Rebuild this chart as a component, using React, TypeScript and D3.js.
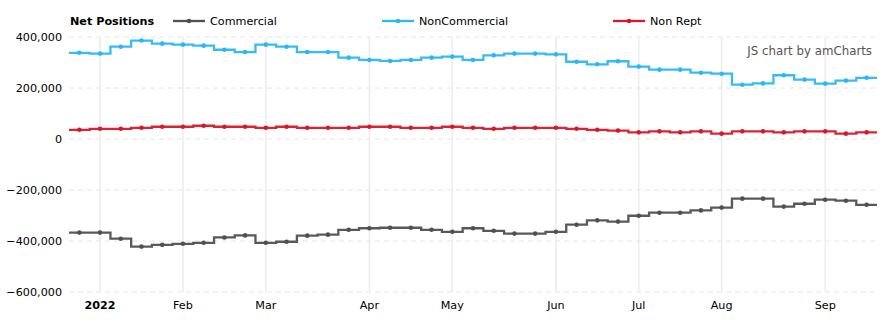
import React from "react";
import * as d3 from "d3";

const dates = [
  "2021-12-28", "2022-01-04", "2022-01-11", "2022-01-18", "2022-01-25",
  "2022-02-01", "2022-02-08", "2022-02-15", "2022-02-22",
  "2022-03-01", "2022-03-08", "2022-03-15", "2022-03-22", "2022-03-29",
  "2022-04-05", "2022-04-12", "2022-04-19", "2022-04-26",
  "2022-05-03", "2022-05-10", "2022-05-17", "2022-05-24", "2022-05-31",
  "2022-06-07", "2022-06-14", "2022-06-21", "2022-06-28",
  "2022-07-05", "2022-07-12", "2022-07-19", "2022-07-26",
  "2022-08-02", "2022-08-09", "2022-08-16", "2022-08-23", "2022-08-30",
  "2022-09-06", "2022-09-13", "2022-09-20",
];

const commercial = [
  -367000, -367000, -391000, -422000, -415000, -411000, -407000, -386000, -378000,
  -407000, -403000, -379000, -375000, -356000, -350000, -348000, -348000, -356000,
  -364000, -350000, -360000, -371000, -371000, -364000, -336000, -319000, -324000,
  -301000, -289000, -289000, -280000, -269000, -234000, -234000, -265000, -254000,
  -238000, -242000, -258000,
];

const nonCommercial = [
  338000, 335000, 362000, 386000, 374000, 370000, 366000, 350000, 341000,
  370000, 362000, 341000, 341000, 319000, 310000, 306000, 310000, 319000,
  323000, 310000, 328000, 335000, 335000, 332000, 303000, 293000, 305000,
  284000, 272000, 272000, 260000, 256000, 213000, 218000, 250000, 233000,
  217000, 229000, 240000,
];

const nonRept = [
  36000, 40000, 40000, 44000, 48000, 48000, 52000, 48000, 48000,
  44000, 48000, 44000, 44000, 44000, 48000, 48000, 44000, 44000,
  48000, 44000, 40000, 44000, 44000, 44000, 40000, 36000, 33000,
  26000, 30000, 26000, 30000, 21000, 30000, 30000, 26000, 30000,
  30000, 21000, 26000,
];

const seriesNames = ["Commercial", "NonCommercial", "Non Rept"];
const seriesColors = ["#505050", "#2ab7f6", "#d8172a"];
const monthLabels = ["2022", "Feb", "Mar", "Apr", "May", "Jun", "Jul", "Aug", "Sep"];
const yTicks = [400000, 200000, 0, -200000, -400000, -600000];

const W = 891;
const H = 326;
const plotLeft = 69;
const plotRight = 877;
const plotTop = 37;
const plotBottom = 292;

export default function App() {
  const x = d3.scaleBand<string>().domain(dates).range([plotLeft, plotRight]).padding(0);
  const bw = x.bandwidth();
  const y = d3.scaleLinear().domain([-600000, 400000]).range([plotBottom, plotTop]);
  const fmt = d3.format(",");

  const allSeries = [commercial, nonCommercial, nonRept];

  const lineGen = d3
    .line<[number, number]>()
    .x((d) => d[0])
    .y((d) => d[1])
    .curve(d3.curveStepAfter);

  const stepPath = (vals: number[]) => {
    const pts: [number, number][] = dates.map((dt, i) => [x(dt) as number, y(vals[i])]);
    pts.push([(x(dates[dates.length - 1]) as number) + bw, y(vals[vals.length - 1])]);
    return lineGen(pts) || "";
  };

  const monthStarts: string[] = [];
  let lastMonth = -1;
  dates.forEach((dt) => {
    const [yy, mm] = dt.split("-").map(Number);
    if (yy === 2022 && mm !== lastMonth) {
      monthStarts.push(dt);
      lastMonth = mm;
    }
  });

  const font = "'DejaVu Sans', Verdana, sans-serif";
  const legendX = [173, 382, 613];

  return (
    <svg
      width={W}
      height={H}
      style={{ position: "absolute", left: 0, top: 0, background: "#fff" }}
      fontFamily={font}
      fontSize={11.2}
    >
      {monthStarts.map((dt) => {
        const cx = (x(dt) as number) + bw / 2;
        return (
          <line key={"vg" + dt} x1={cx} x2={cx} y1={plotTop} y2={plotBottom} stroke="#ececec" strokeWidth={1.5} />
        );
      })}
      {yTicks.map((t) => (
        <line
          key={"hg" + t}
          x1={plotLeft}
          x2={plotRight}
          y1={y(t)}
          y2={y(t)}
          stroke="#e6e6e6"
          strokeWidth={1}
          strokeDasharray="5,4"
        />
      ))}
      {yTicks.map((t) => (
        <text key={"yl" + t} x={62} y={y(t)} dy="0.35em" textAnchor="end" fill="#000">
          {fmt(t)}
        </text>
      ))}
      {monthStarts.map((dt, i) => (
        <text
          key={"xl" + dt}
          x={(x(dt) as number) + bw / 2}
          y={305}
          dy="0.35em"
          textAnchor="middle"
          fill="#000"
          fontWeight={i === 0 ? "bold" : "normal"}
        >
          {monthLabels[i]}
        </text>
      ))}
      {allSeries.map((vals, si) => (
        <g key={"s" + si}>
          <path d={stepPath(vals)} fill="none" stroke={seriesColors[si]} strokeWidth={2.3} strokeOpacity={0.95} />
          {vals.map((v, i) => (
            <circle
              key={i}
              cx={(x(dates[i]) as number) + bw / 2}
              cy={y(v)}
              r={2.3}
              fill={seriesColors[si]}
            />
          ))}
        </g>
      ))}
      <text x={70} y={21} dy="0.35em" fontWeight="bold" fill="#000">
        Net Positions
      </text>
      {seriesNames.map((n, si) => (
        <g key={"lg" + si} transform={`translate(${legendX[si]},21)`}>
          <line x1={0} x2={32} y1={0} y2={0} stroke={seriesColors[si]} strokeWidth={2.3} />
          <circle cx={16} cy={0} r={2.3} fill={seriesColors[si]} />
          <text x={37} y={0} dy="0.35em" fill="#000">
            {n}
          </text>
        </g>
      ))}
      <text x={872} y={51} dy="0.35em" textAnchor="end" fill="#555" fontSize={11.8}>
        JS chart by amCharts
      </text>
    </svg>
  );
}
